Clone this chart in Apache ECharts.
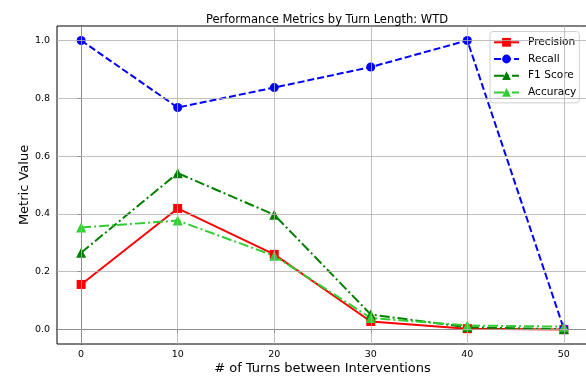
<!DOCTYPE html>
<html><head><meta charset="utf-8">
<script src="https://cdn.jsdelivr.net/npm/echarts@6/dist/echarts.min.js"></script>
<style>html,body{margin:0;padding:0;background:#fff}#c{width:586px;height:376px}</style>
</head><body><div id="c"></div>
<script>
const turns = [0, 10, 20, 30, 40, 50];
const precision = [0.156, 0.419, 0.260, 0.028, 0.003, 0.000];
const recall = [1.000, 0.768, 0.837, 0.908, 1.000, 0.002];
const f1 = [0.266, 0.541, 0.397, 0.052, 0.008, 0.001];
const accuracy = [0.353, 0.377, 0.255, 0.040, 0.014, 0.010];
const xTicks = [0, 10, 20, 30, 40, 50];
const yTicks = [0.0, 0.2, 0.4, 0.6, 0.8, 1.0];

const FONT = 'DejaVu Sans';
const chart = echarts.init(document.getElementById('c'), null, {renderer: 'canvas'});
const pair = (ys) => turns.map((t, i) => [t, ys[i]]);
const gridColor = '#b0b0b0';

const gridLines = [];
xTicks.forEach(v => gridLines.push({xAxis: v}));
yTicks.forEach(v => gridLines.push({yAxis: v}));

chart.setOption({
  animation: false,
  title: {
    text: 'Performance Metrics by Turn Length: WTD',
    left: 322, top: 9, textAlign: 'center',
    textStyle: {fontFamily: FONT, fontSize: 11.5, fontWeight: 'normal', color: '#000'}
  },
  grid: {left: 57, top: 26, right: -2, bottom: 32, outerBoundsMode: 'none', containLabel: false,
    show: true, borderColor: '#000', borderWidth: 1, backgroundColor: 'transparent'},
  legend: {
    orient: 'vertical', left: 490, top: 31.5,
    backgroundColor: 'rgba(255,255,255,0.85)', borderColor: '#d0d0d0', borderWidth: 1, borderRadius: 3,
    padding: [5.3, 3, 5, 3], itemGap: 5.7, itemWidth: 25, itemHeight: 11,
    textStyle: {fontFamily: FONT, fontSize: 10.6, lineHeight: 11, color: '#000', padding: [0, 0, 0, 4]},
    data: ['Precision', 'Recall', 'F1 Score', 'Accuracy']
  },
  xAxis: {
    type: 'value', min: -2.5, max: 52.5,
    name: '# of Turns between Interventions', nameLocation: 'middle', nameGap: 18, nameMoveOverlap: false,
    nameTextStyle: {fontFamily: FONT, fontSize: 13, color: '#000'},
    axisLine: {show: true, lineStyle: {color: '#000', width: 1}},
    axisTick: {show: true, length: 3.5, customValues: xTicks, lineStyle: {color: '#000'}},
    axisLabel: {customValues: xTicks, fontFamily: FONT, fontSize: 9.5, color: '#000', margin: 6},
    splitLine: {show: false}
  },
  yAxis: {
    type: 'value', min: -0.05, max: 1.05,
    name: 'Metric Value', nameLocation: 'middle', nameGap: 26, nameRotate: 90, nameMoveOverlap: false,
    nameTextStyle: {fontFamily: FONT, fontSize: 13, color: '#000'},
    axisLine: {show: true, lineStyle: {color: '#000', width: 1}},
    axisTick: {show: true, length: 3.5, customValues: yTicks, lineStyle: {color: '#000'}},
    axisLabel: {customValues: yTicks, fontFamily: FONT, fontSize: 9.5, color: '#000', margin: 7,
      formatter: v => v.toFixed(1)},
    splitLine: {show: false}
  },
  series: [
    {
      type: 'line', name: '_grid', data: [], silent: true, z: 0,
      markLine: {silent: true, symbol: 'none', label: {show: false}, animation: false,
        lineStyle: {color: gridColor, width: 1, type: 'solid', opacity: 0.8}, data: gridLines}
    },
    {
      type: 'line', name: 'Precision', data: pair(precision), z: 3,
      symbol: 'rect', symbolSize: 9, color: '#ff0000',
      lineStyle: {color: '#ff0000', width: 2, type: 'solid'}, itemStyle: {color: '#ff0000'}
    },
    {
      type: 'line', name: 'Recall', data: pair(recall), z: 3,
      symbol: 'circle', symbolSize: 9, color: '#0000ff',
      lineStyle: {color: '#0000ff', width: 2, type: [7, 3]}, itemStyle: {color: '#0000ff'}
    },
    {
      type: 'line', name: 'F1 Score', data: pair(f1), z: 3,
      symbol: 'triangle', symbolSize: 10, color: '#008000',
      lineStyle: {color: '#008000', width: 2, type: [10, 3, 2, 3]}, itemStyle: {color: '#008000'}
    },
    {
      type: 'line', name: 'Accuracy', data: pair(accuracy), z: 3,
      symbol: 'triangle', symbolSize: 10, color: '#32cd32',
      lineStyle: {color: '#32cd32', width: 2, type: [10, 3, 2, 3]}, itemStyle: {color: '#32cd32'}
    }
  ]
});
</script></body></html>
